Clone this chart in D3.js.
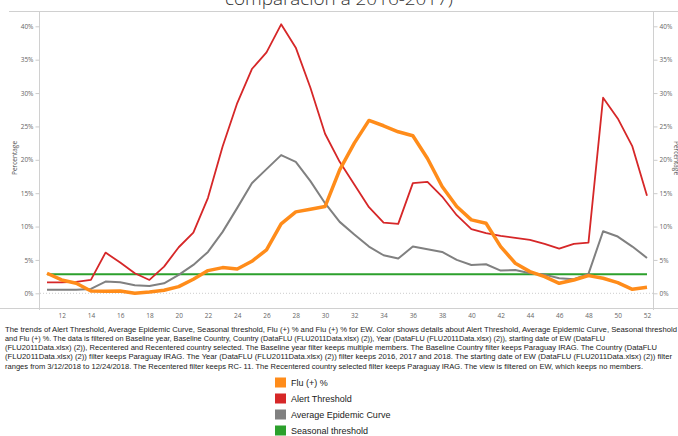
<!DOCTYPE html>
<html>
<head>
<meta charset="utf-8">
<script src="https://cdn.jsdelivr.net/npm/d3@7"></script>
<style>
  body { margin: 0; background: #fff; }
  svg { display: block; }
</style>
</head>
<body>
<div id="chart"></div>
<script>
// datos (semana epidemiologica y porcentajes)
var weeks = [11,12,13,14,15,16,17,18,19,20,21,22,23,24,25,26,27,28,29,30,31,
             32,33,34,35,36,37,38,39,40,41,42,43,44,45,46,47,48,49,50,51,52]
var fluPos = [3.0,2.0,1.5,0.35,0.3,0.35,0.0,0.2,0.45,1.0,2.1,3.4,3.85,3.65,4.8,6.5,10.4,12.2,12.6,13.0,18.5,
              22.5,25.9,25.1,24.2,23.6,20.2,16.0,13.0,11.0,10.5,7.0,4.5,3.25,2.5,1.5,2.0,2.65,2.25,1.6,0.6,0.9]
var alertThreshold = [1.65,1.65,1.7,2.0,6.1,4.6,3.0,2.0,4.0,6.9,9.1,14.3,22.0,28.5,33.6,36.1,40.3,36.8,30.8,23.9,19.7,
                      16.3,12.9,10.6,10.4,16.5,16.7,14.5,11.7,9.6,9.0,8.6,8.3,8.0,7.4,6.7,7.4,7.6,29.3,26.2,22.0,14.6]
var avgCurve = [0.55,0.55,0.55,0.65,1.75,1.65,1.2,1.1,1.5,2.75,4.25,6.2,9.2,12.8,16.5,18.6,20.7,19.7,16.8,13.5,10.7,
                8.8,7.0,5.7,5.2,7.0,6.6,6.2,5.0,4.25,4.35,3.4,3.5,3.0,2.8,2.25,2.1,2.9,9.3,8.5,7.0,5.3]
var seasonal = [2.85,2.85,2.85,2.85,2.85,2.85,2.85,2.85,2.85,2.85,2.85,2.85,2.85,2.85,2.85,2.85,2.85,2.85,2.85,2.85,2.85,
                2.85,2.85,2.85,2.85,2.85,2.85,2.85,2.85,2.85,2.85,2.85,2.85,2.85,2.85,2.85,2.85,2.85,2.85,2.85,2.85,2.85]
var xTicks = [12,14,16,18,20,22,24,26,28,30,32,34,36,38,40,42,44,46,48,50,52]
var yTicks = [0,5,10,15,20,25,30,35,40]

var seriesNames = ['Flu (+) %', 'Alert Threshold', 'Average Epidemic Curve', 'Seasonal threshold']
var seriesColors = ['#ff8c1a', '#d62728', '#808080', '#2ca02c']

var footnote = [
  'The trends of Alert Threshold, Average Epidemic Curve, Seasonal threshold, Flu (+) % and Flu (+) % for EW.  Color shows details about Alert Threshold, Average Epidemic Curve, Seasonal threshold',
  'and Flu (+) %. The data is filtered on Baseline year, Baseline Country, Country (DataFLU (FLU2011Data.xlsx) (2)), Year (DataFLU (FLU2011Data.xlsx) (2)), starting date of EW (DataFLU',
  '(FLU2011Data.xlsx) (2)), Recentered and Recentered country selected. The Baseline year filter keeps multiple members. The Baseline Country filter keeps Paraguay IRAG. The Country (DataFLU',
  '(FLU2011Data.xlsx) (2)) filter keeps Paraguay IRAG. The Year (DataFLU (FLU2011Data.xlsx) (2)) filter keeps 2016, 2017 and 2018. The starting date of EW (DataFLU (FLU2011Data.xlsx) (2)) filter',
  'ranges from 3/12/2018 to 12/24/2018. The Recentered filter keeps RC- 11. The Recentered country selected filter keeps Paraguay IRAG. The view is filtered on EW, which keeps no members.'
]
var footWidths = [672, 600, 652, 667, 638]

var W = 678, H = 436
var svg = d3.select('#chart').append('svg')
    .attr('width', W)
    .attr('height', H)

// titulo (solo se ve la ultima linea)
svg.append('text')
    .attr('x', 339)
    .attr('y', 5)
    .attr('text-anchor', 'middle')
    .attr('font-family', 'Open Sans')
    .attr('font-size', '16px')
    .attr('font-weight', 300)
    .attr('fill', '#333')
    .attr('textLength', 228)
    .attr('lengthAdjust', 'spacingAndGlyphs')
    .text('comparación a 2016-2017)')

// escalas
var x = d3.scaleLinear().domain([11, 52]).range([47, 647])
var y = d3.scaleLinear().domain([0, 40]).range([293.3, 26.3])

// marco
var frame = svg.append('g').attr('stroke', '#d0d0d0').attr('stroke-width', 1).attr('fill', 'none')
frame.append('line').attr('x1', 9).attr('x2', W).attr('y1', 11.5).attr('y2', 11.5)
frame.append('line').attr('x1', 0).attr('x2', W).attr('y1', 308.5).attr('y2', 308.5)
frame.append('line').attr('x1', 39.5).attr('x2', 39.5).attr('y1', 11).attr('y2', 310)
frame.append('line').attr('x1', 653.5).attr('x2', 653.5).attr('y1', 11).attr('y2', 310)

// linea de cero
svg.append('line')
    .attr('x1', 40).attr('x2', 653)
    .attr('y1', y(0)).attr('y2', y(0))
    .attr('stroke', '#ccc')
    .attr('stroke-dasharray', '1,2')

// ejes
var yLeft = d3.axisLeft(y).tickValues(yTicks).tickSize(4).tickPadding(2).tickFormat(function(d){ return d + '%' })
var yRight = d3.axisRight(y).tickValues(yTicks).tickSize(4).tickPadding(2).tickFormat(function(d){ return d + '%' })
var xAxis = d3.axisBottom(x).tickValues(xTicks).tickSize(0).tickPadding(5).tickFormat(d3.format('d'))

function styleAxis(g) {
    g.select('.domain').remove()
    g.selectAll('line').attr('stroke', '#ccc')
    g.selectAll('text')
        .attr('font-family', 'Open Sans')
        .attr('font-size', '6.5px')
        .attr('fill', '#666')
}
svg.append('g').attr('transform', 'translate(39.5,0)').call(yLeft).call(styleAxis)
svg.append('g').attr('transform', 'translate(653.5,0)').call(yRight).call(styleAxis)
svg.append('g').attr('transform', 'translate(0,308)').call(xAxis).call(styleAxis)

svg.append('text')
    .attr('transform', 'translate(17,158) rotate(-90)')
    .attr('text-anchor', 'middle')
    .attr('font-family', 'Open Sans')
    .attr('font-size', '6.5px')
    .attr('fill', '#555')
    .text('Percentage')
svg.append('text')
    .attr('transform', 'translate(674,158) rotate(90)')
    .attr('text-anchor', 'middle')
    .attr('font-family', 'Open Sans')
    .attr('font-size', '6.5px')
    .attr('fill', '#555')
    .text('Percentage')

// lineas
var line = d3.line()
    .x(function(d, i){ return x(weeks[i]) })
    .y(function(d){ return y(d) })

var layers = [
    { data: seasonal, color: seriesColors[3], width: 2 },
    { data: avgCurve, color: seriesColors[2], width: 2 },
    { data: alertThreshold, color: seriesColors[1], width: 1.8 },
    { data: fluPos, color: seriesColors[0], width: 3.5 }
]
svg.append('g')
    .selectAll('path')
    .data(layers)
    .enter()
    .append('path')
    .attr('d', function(d){ return line(d.data) })
    .attr('fill', 'none')
    .attr('stroke', function(d){ return d.color })
    .attr('stroke-width', function(d){ return d.width })
    .attr('stroke-linejoin', 'round')

// nota al pie
svg.append('g')
    .selectAll('text')
    .data(footnote)
    .enter()
    .append('text')
    .attr('x', 5)
    .attr('y', function(d, i){ return 331.5 + i * 9.3 })
    .attr('font-family', 'Liberation Sans, Arial')
    .attr('font-size', '7.3px')
    .attr('fill', '#222')
    .attr('textLength', function(d, i){ return footWidths[i] })
    .attr('lengthAdjust', 'spacingAndGlyphs')
    .text(function(d){ return d })

// leyenda
var legend = svg.append('g')
    .selectAll('g')
    .data(seriesNames)
    .enter()
    .append('g')
    .attr('transform', function(d, i){ return 'translate(275,' + (377.5 + i * 16) + ')' })
legend.append('rect')
    .attr('width', 11)
    .attr('height', 10)
    .attr('fill', function(d, i){ return seriesColors[i] })
legend.append('text')
    .attr('x', 16)
    .attr('y', 8.5)
    .attr('font-family', 'Liberation Sans, Arial')
    .attr('font-size', '9px')
    .attr('fill', '#222')
    .text(function(d){ return d })
</script>
</body>
</html>
